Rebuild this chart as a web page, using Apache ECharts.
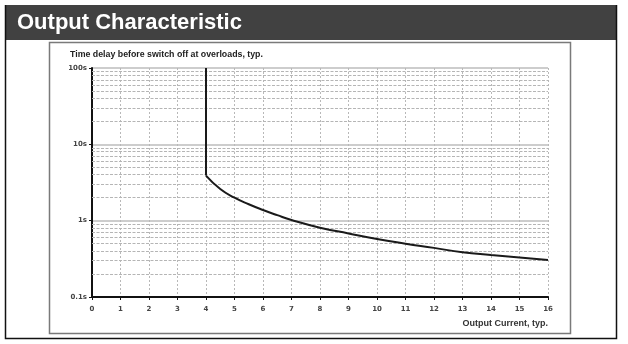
<!DOCTYPE html>
<html><head><meta charset="utf-8">
<script src="https://cdn.jsdelivr.net/npm/echarts@6/dist/echarts.min.js"></script>
<style>html,body{margin:0;padding:0;background:#fff}#c{width:628px;height:344px}</style>
</head><body><div id="c"></div>
<script>
// Texts
const chartTitle = 'Output Characteristic';
const yAxisTitle = 'Time delay before switch off at overloads, typ.';
const xAxisTitle = 'Output Current, typ.';

// Overload curve: output current (multiples) vs. time delay in seconds
const currentValues = [4, 4, 4.5, 5, 5.5, 6, 6.5, 7, 8, 9, 10, 11, 12, 13, 14, 15, 16];
const delayValues = [100, 3.9, 2.6, 2.0, 1.64, 1.38, 1.18, 1.02, 0.81, 0.68, 0.575, 0.5, 0.44, 0.385, 0.355, 0.33, 0.305];

// Axis ticks
const yTickLabels = { 0.1: '0.1s', 1: '1s', 10: '10s', 100: '100s' };
const minorGridValues = [0.2, 0.3, 0.4, 0.5, 0.6, 0.7, 0.8, 0.9,
                         2, 3, 4, 5, 6, 7, 8, 9,
                         20, 30, 40, 50, 60, 70, 80, 90];

const chart = echarts.init(document.getElementById('c'), null, { renderer: 'canvas' });

const verticalPart = [[currentValues[0], delayValues[0]], [currentValues[1], delayValues[1]]];
const curvePart = currentValues.slice(1).map((x, i) => [x, delayValues[i + 1]]);

const labelFont = { fontFamily: 'DejaVu Sans', fontSize: 7, fontWeight: 'bold', color: '#444' };

chart.setOption({
  animation: false,
  backgroundColor: '#fff',
  grid: { left: 92, right: 80, top: 68, bottom: 47, containLabel: false },
  xAxis: {
    type: 'value', min: 0, max: 16, interval: 1,
    axisLine: { show: true, onZero: false, lineStyle: { color: '#111', width: 2 } },
    axisTick: { show: true, length: 3, lineStyle: { color: '#111', width: 1 } },
    axisLabel: Object.assign({ margin: 9 }, labelFont),
    splitLine: { show: true, lineStyle: { color: '#b8b8b8', width: 1, type: [2, 2] } }
  },
  yAxis: {
    type: 'log', logBase: 10, min: 0.1, max: 100,
    axisLine: { show: true, onZero: false, lineStyle: { color: '#111', width: 2 } },
    axisTick: { show: true, length: 3, lineStyle: { color: '#111', width: 1 } },
    axisLabel: Object.assign({ margin: 5, formatter: v => yTickLabels[+v.toPrecision(3)] || '' }, labelFont),
    splitLine: { show: true, lineStyle: { color: '#bdbdbd', width: 1.5 } }
  },
  series: [
    {
      // minor log grid
      type: 'line', data: [], z: 1, silent: true,
      markLine: {
        silent: true, symbol: 'none', label: { show: false },
        lineStyle: { color: '#b5b5b5', width: 1, type: [3, 1.5] },
        data: minorGridValues.map(v => ({ yAxis: v }))
      }
    },
    {
      type: 'line', data: verticalPart, symbol: 'none',
      lineStyle: { color: '#1a1a1a', width: 2 }, z: 5
    },
    {
      type: 'line', data: curvePart, symbol: 'none', smooth: 0.5,
      lineStyle: { color: '#1a1a1a', width: 2 }, z: 5
    }
  ],
  graphic: [
    // title bar
    { type: 'rect', shape: { x: 5, y: 5, width: 612, height: 35 }, style: { fill: '#414141' }, z: 0 },
    { type: 'text', x: 17, y: 23, style: { text: chartTitle, fill: '#fff', font: 'bold 22px "Liberation Sans", Arial', textVerticalAlign: 'middle' }, z: 1 },
    // outer frame
    { type: 'polyline', shape: { points: [[5.5, 5], [5.5, 338.5], [616.5, 338.5], [616.5, 5]] }, style: { stroke: '#111', lineWidth: 1.5, fill: null }, z: 1 },
    // inner box
    { type: 'rect', shape: { x: 49.5, y: 42.5, width: 521, height: 291 }, style: { stroke: '#7a7a7a', lineWidth: 1.5, fill: null }, z: 1 },
    { type: 'text', x: 70, y: 55, style: { text: yAxisTitle, fill: '#222', font: 'bold 8.8px "Liberation Sans"', textVerticalAlign: 'middle' }, z: 1 },
    { type: 'text', x: 548, y: 324, style: { text: xAxisTitle, fill: '#333', font: 'bold 9px "Liberation Sans"', textAlign: 'right', textVerticalAlign: 'middle' }, z: 1 }
  ]
});
</script>
</body></html>
